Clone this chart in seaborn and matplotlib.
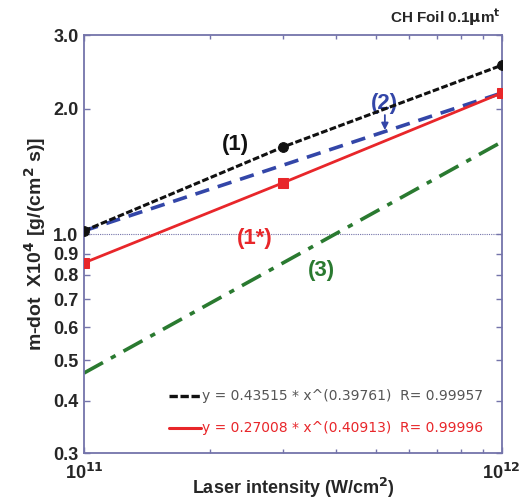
import numpy as np
import pandas as pd
import matplotlib
matplotlib.use('Agg')
import matplotlib.pyplot as plt
import matplotlib.transforms as mtransforms
import seaborn as sns
from matplotlib.lines import Line2D
from matplotlib.ticker import FixedLocator, NullLocator, NullFormatter

intensity = [1e11, 3e11, 1e12]
mdot_1 = [1.02, 1.62, 2.54]          # (1) black, circles
mdot_1s = [0.855, 1.33, 2.18]        # (1*) red, squares
line_x = [1e11, 1e12]
mdot_2 = [1.02, 2.18]                # (2) blue dashed
mdot_3 = [0.466, 1.665]              # (3) green dash-dot

fit_labels = ["y = 0.43515 * x^(0.39761)  R= 0.99957",
              "y = 0.27008 * x^(0.40913)  R= 0.99996"]
ytick_vals = [0.3, 0.4, 0.5, 0.6, 0.7, 0.8, 0.9, 1.0, 2.0, 3.0]

BLACK = '#111111'
RED = '#e8262a'
BLUE = '#3346a8'
GREEN = '#2a7a30'
FRAME = '#7474aa'

sns.set_style("ticks")
plt.rcParams['font.family'] = ['Liberation Sans', 'DejaVu Sans']

fig = plt.figure(figsize=(5.2, 5.0), dpi=100, facecolor='white')
ax = fig.add_axes([0.1615, 0.094, 0.8035, 0.836])

df1 = pd.DataFrame({'x': intensity, 'y': mdot_1})
df1s = pd.DataFrame({'x': intensity, 'y': mdot_1s})
df2 = pd.DataFrame({'x': line_x, 'y': mdot_2})
df3 = pd.DataFrame({'x': line_x, 'y': mdot_3})

ax.axhline(1.0, color=FRAME, lw=0.8, linestyle=(0, (1, 1)), zorder=1)
sns.lineplot(data=df3, x='x', y='y', ax=ax, color=GREEN, lw=2.6,
             linestyle=(0, (6, 2.5, 1.5, 2.5)), zorder=2)
sns.lineplot(data=df2, x='x', y='y', ax=ax, color=BLUE, lw=2.6,
             linestyle=(0, (4, 2.5)), zorder=2)
sns.lineplot(data=df1s, x='x', y='y', ax=ax, color=RED, lw=2.0,
             marker='s', markersize=7, markeredgecolor=RED, zorder=3)
sns.lineplot(data=df1, x='x', y='y', ax=ax, color=BLACK, lw=2.2,
             linestyle=(0, (2.2, 0.8)), marker='o', markersize=7,
             markeredgecolor=BLACK, zorder=4)

ax.set_xscale('log')
ax.set_yscale('log')
ax.set_xlim(1e11, 1e12)
ax.set_ylim(0.3, 3.0)

ax.yaxis.set_major_locator(FixedLocator(ytick_vals))
ax.yaxis.set_minor_locator(NullLocator())
ax.yaxis.set_minor_formatter(NullFormatter())
ax.set_yticklabels([f"{v:.1f}" for v in ytick_vals], fontsize=13, fontweight='bold')
ax.xaxis.set_major_locator(FixedLocator([1e11, 1e12]))
ax.xaxis.set_minor_locator(FixedLocator([k * 1e11 for k in range(2, 10)]))
ax.xaxis.set_minor_formatter(NullFormatter())
ax.set_xticklabels([r"10$^{\mathbf{11}}$", r"10$^{\mathbf{12}}$"], fontsize=13, fontweight='bold')
# nudge the x tick labels like the original
first, last = ax.get_xticklabels()
first.set_transform(first.get_transform() + mtransforms.ScaledTranslation(4 / 100, 0, fig.dpi_scale_trans))
last.set_transform(last.get_transform() + mtransforms.ScaledTranslation(-12 / 100, 0, fig.dpi_scale_trans))

ax.tick_params(which='both', direction='in', top=True, right=True, color=FRAME, width=1)
ax.tick_params(which='major', length=4, pad=4)
ax.tick_params(which='minor', length=3)
ax.tick_params(axis='x', which='major', pad=7)
for s in ax.spines.values():
    s.set_color(FRAME)
    s.set_linewidth(1.3)

ax.set_xlabel(r"Laser intensity (W/cm$^{\mathbf{2}}$)", fontsize=13, fontweight='bold', labelpad=-5)
ax.set_ylabel(r"m-dot  X10$^{\mathbf{4}}$ [g/(cm$^{\mathbf{2}}$ s)]", fontsize=14, fontweight='bold', labelpad=4)

# curve labels
ax.text(2.30e11, 1.64, "(1)", color=BLACK, fontsize=16, fontweight='bold', ha='center', va='center')
ax.text(5.25e11, 2.06, "(2)", color=BLUE, fontsize=16, fontweight='bold', ha='center', va='center')
ax.annotate("", xy=(5.25e11, 1.75), xytext=(5.25e11, 1.96),
            arrowprops=dict(arrowstyle='-|>', color=BLUE, lw=1.3, mutation_scale=10))
ax.text(2.56e11, 0.98, "(1*)", color=RED, fontsize=16, fontweight='bold', ha='center', va='center')
ax.text(3.71e11, 0.822, "(3)", color=GREEN, fontsize=16, fontweight='bold', ha='center', va='center')

handles = [Line2D([], [], color=BLACK, lw=2.4, linestyle=(0, (2.5, 0.8))),
           Line2D([], [], color=RED, lw=2.2)]
leg = ax.legend(handles, fit_labels, loc='lower right', bbox_to_anchor=(0.985, 0.012),
                frameon=False, handlelength=2.3, handletextpad=0.1,
                labelspacing=1.3, labelcolor=['#555555', RED],
                prop={'family': 'DejaVu Sans', 'size': 10})

fig.text(0.962, 0.965, r"CH Foil 0.1$\mathbf{\mu}$m$^{\mathbf{t}}$", fontsize=11, fontweight='bold',
         ha='right', va='center')

fig.savefig('out.png', dpi=100)
